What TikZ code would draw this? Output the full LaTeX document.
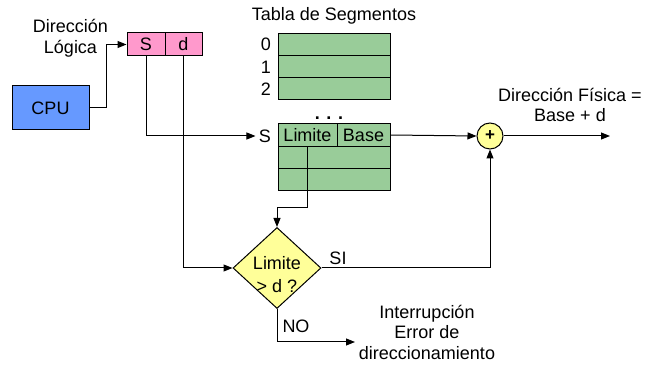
\documentclass[tikz,border=0pt]{standalone}
\usepackage{fontspec}
\setmainfont{Liberation Sans}
\usetikzlibrary{shapes.geometric,arrows.meta}
\definecolor{pinkc}{HTML}{FF99CC}
\definecolor{bluec}{HTML}{6699FF}
\definecolor{greenc}{HTML}{99CC99}
\definecolor{yellowc}{HTML}{FFFF99}
\begin{document}
\begin{tikzpicture}[x=1pt,y=-1pt,
  font=\fontsize{18}{20.5}\selectfont,
  >={Triangle[length=9pt,width=7pt]},
  line width=1pt,
  cell/.style={draw, inner sep=0pt, anchor=center},
  pinkcell/.style={cell, fill=pinkc, minimum height=23pt},
  greencell/.style={cell, fill=greenc, minimum height=22.3pt},
  lbl/.style={inner sep=0pt, align=center}]
\useasboundingbox (0,0) rectangle (654,371);
% logical address
\node[lbl] (dirlog) at (70.5,38) {Dirección\\Lógica};
\node[pinkcell, minimum width=38pt] (sS) at (146,44.5) {S};
\node[pinkcell, minimum width=37pt] (dd) at (183.5,44.5) {d};
\node[cell, fill=bluec, minimum width=77pt, minimum height=44pt] (cpu) at (50.5,108) {CPU};
% segment table
\node[lbl] (tabla) at (334,16) {Tabla de Segmentos};
\node[greencell, minimum width=112pt] (t0) at (334,44.2) {};
\node[greencell, minimum width=112pt] (t1) at (334,66.5) {};
\node[greencell, minimum width=112pt] (t2) at (334,88.8) {};
\node[lbl] (n0) at (266,44.5) {0};
\node[lbl] (n1) at (266,67) {1};
\node[lbl] (n2) at (266,89) {2};
\node[lbl, anchor=base] (dots) at (329,120) {\textbf{. . .}};
\node[greencell, minimum width=59pt] (limite) at (307.5,135) {Limite};
\node[greencell, minimum width=53pt] (base) at (363.5,135) {Base};
\node[greencell, minimum width=112pt] (r2) at (334,157.3) {};
\node[greencell, minimum width=112pt] (r3) at (334,179.6) {};
\node[inner sep=3pt] (slabel) at (265,136) {S};
% adder
\node[circle, draw, fill=yellowc, minimum size=26pt, inner sep=0pt, font=\fontsize{17}{17}\bfseries] (plus) at (490,136) {+};
\node[lbl] (fis) at (570,105) {Dirección Física =\\Base + d};
\coordinate (out) at (610,136);
% decision
\node[diamond, draw, fill=yellowc, aspect=1.09, inner sep=0pt, minimum width=88pt, minimum height=81pt] (diam) at (277,268) {};
\node[lbl, font=\fontsize{18}{23}\selectfont] (diamtxt) at (277,274.5) {Limite\\> d ?};
\node[lbl] (si) at (338,258) {SI};
\node[lbl] (no) at (296,326) {NO};
\coordinate (err) at (355,342);
\node[lbl] (interr) at (427,332) {Interrupción\\Error de\\direccionamiento};
% connectors
\draw[->] (cpu.east) -- ++(17,0) |- (sS.west);
\draw[->] (sS.south) |- (slabel.west);
\draw[->] (dd.south) |- (diam.west);
\draw[->] (base.east) -- (plus.west);
\draw[->] (plus.east) -- (out);
\draw[->] (limite.south) -- ++(0,61) -| (diam.north);
\draw[->] (diam.east) -| (plus.south);
\draw[->] (diam.south) |- (err);
\end{tikzpicture}
\end{document}
